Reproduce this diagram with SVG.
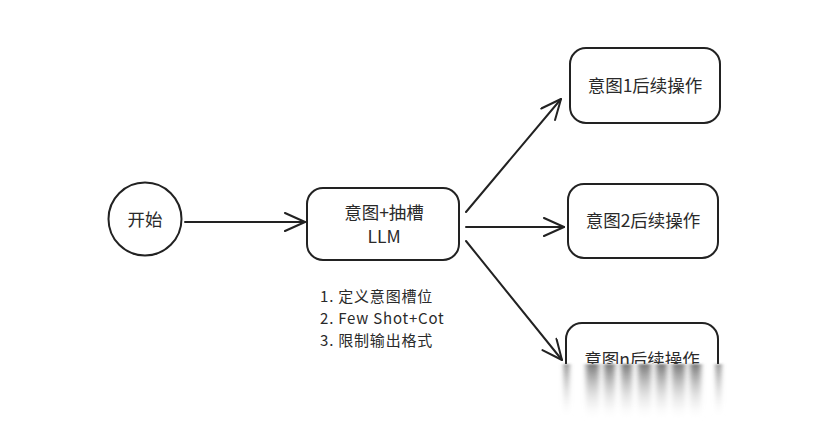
<svg xmlns="http://www.w3.org/2000/svg" width="830" height="428" viewBox="0 0 830 428">
  <style>
    .box { fill: #ffffff; stroke: #222222; stroke-width: 2; }
    .lbl { font-family: "Noto Sans CJK SC", "Noto Sans", sans-serif; font-size: 17.5px; fill: #2a2a2a; text-anchor: middle; }
    .note { font-family: "Noto Sans CJK SC", "Noto Sans", sans-serif; font-size: 15px; letter-spacing: 0.8px; fill: #2a2a2a; }
    .edge { fill: none; stroke: #222222; stroke-width: 2; stroke-linecap: round; }
  </style>
  <defs>
    <marker id="open" viewBox="0 0 24 20" refX="22" refY="10" markerWidth="24" markerHeight="20" markerUnits="userSpaceOnUse" orient="auto">
      <path d="M2,1 L22,10 L2,19" fill="none" stroke="#222222" stroke-width="2" stroke-linecap="round" stroke-linejoin="round"/>
    </marker>
    <linearGradient id="smear" x1="0" y1="0" x2="0" y2="1">
      <stop offset="0" stop-color="#555555" stop-opacity="0.8"/>
      <stop offset="1" stop-color="#ffffff" stop-opacity="0"/>
    </linearGradient>
    <clipPath id="cut">
      <rect x="0" y="0" width="830" height="364"/>
    </clipPath>
    <filter id="soft" x="-50%" y="-10%" width="200%" height="120%">
      <feGaussianBlur stdDeviation="2.5 1"/>
    </filter>
  </defs>
  <rect width="830" height="428" fill="#ffffff"/>

  <g id="start">
    <circle class="box" cx="145" cy="219" r="36.5"/>
    <text class="lbl" x="145" y="226">开始</text>
  </g>

  <g id="llm">
    <rect class="box" x="307" y="188" width="152" height="72" rx="16"/>
    <text class="lbl" x="384" y="219">意图+抽槽</text>
    <text class="lbl" x="384" y="243">LLM</text>
  </g>

  <g id="notes">
    <text class="note" x="320" y="302">1. 定义意图槽位</text>
    <text class="note" x="320" y="324">2. Few Shot+Cot</text>
    <text class="note" x="320" y="346">3. 限制输出格式</text>
  </g>

  <g id="intent1">
    <rect class="box" x="570" y="48" width="150" height="75" rx="16"/>
    <text class="lbl" x="645" y="92">意图1后续操作</text>
  </g>

  <g id="intent2">
    <rect class="box" x="568" y="184" width="150" height="74" rx="16"/>
    <text class="lbl" x="643" y="227">意图2后续操作</text>
  </g>

  <g id="intentn">
    <g clip-path="url(#cut)">
      <rect class="box" x="566" y="323" width="152" height="74" rx="16"/>
      <text class="lbl" x="642" y="366">意图n后续操作</text>
    </g>
    <!-- streaked lower part -->
    <g filter="url(#soft)">
      <rect x="564" y="364" width="5" height="56" fill="url(#smear)"/>
      <rect x="716" y="364" width="5" height="56" fill="url(#smear)"/>
      <rect x="586" y="364" width="13" height="58" fill="url(#smear)"/>
      <rect x="604" y="364" width="11" height="58" fill="url(#smear)"/>
      <rect x="621" y="364" width="11" height="58" fill="url(#smear)"/>
      <rect x="638" y="364" width="13" height="58" fill="url(#smear)"/>
      <rect x="656" y="364" width="11" height="58" fill="url(#smear)"/>
      <rect x="672" y="364" width="13" height="58" fill="url(#smear)"/>
      <rect x="690" y="364" width="11" height="58" fill="url(#smear)"/>
    </g>
  </g>

  <g id="connectors">
    <line class="edge" x1="185" y1="222" x2="305" y2="222" marker-end="url(#open)"/>
    <line class="edge" x1="466" y1="212" x2="561" y2="99" marker-end="url(#open)"/>
    <line class="edge" x1="466" y1="227" x2="564" y2="227" marker-end="url(#open)"/>
    <line class="edge" x1="466" y1="241" x2="562" y2="360" marker-end="url(#open)"/>
  </g>
</svg>
